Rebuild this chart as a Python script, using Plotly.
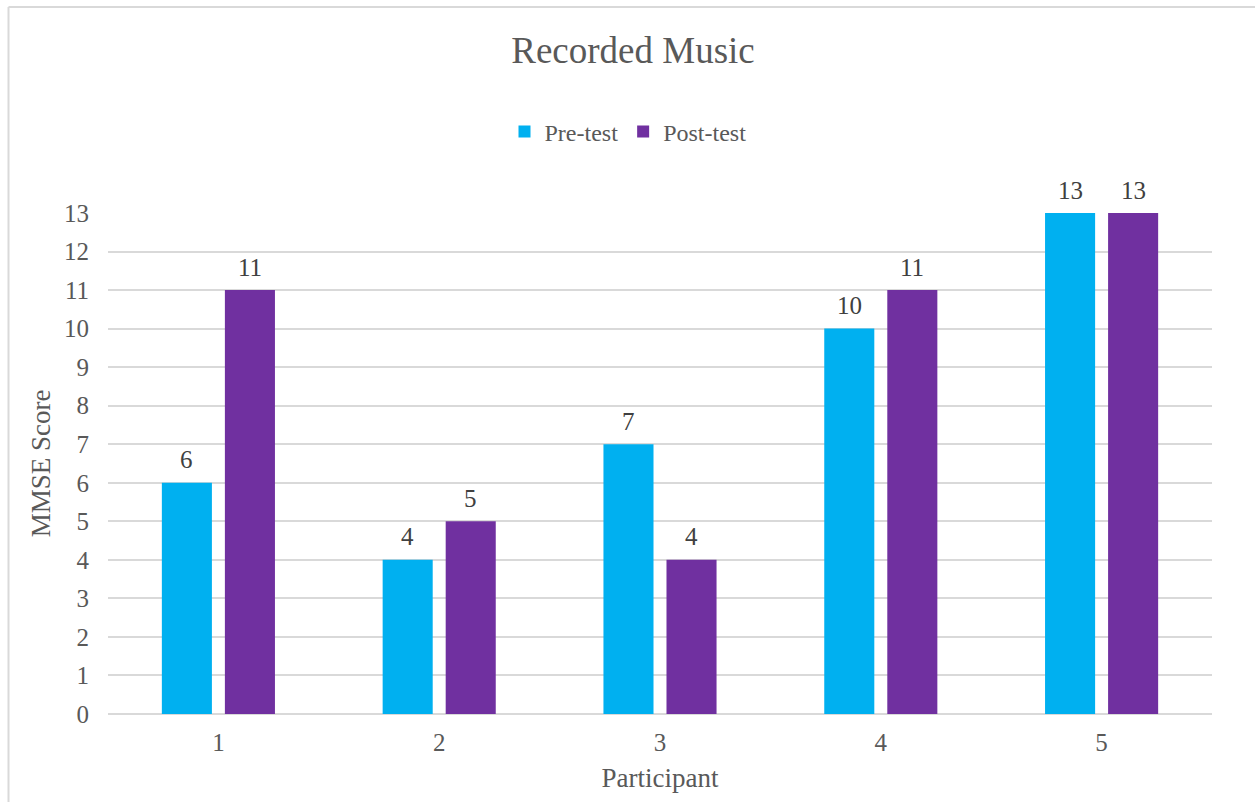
import plotly.graph_objects as go

participants = ["1", "2", "3", "4", "5"]
pre_test = [6, 4, 7, 10, 13]
post_test = [11, 5, 4, 11, 13]
y_ticks = list(range(0, 14))

W, H = 1255, 802
ML, MR, MT, MB = 108, 43, 213, 88
PW, PH = W - ML - MR, H - MT - MB

FONT = "Liberation Serif"
GRAY = "#595959"
LABEL = "#404040"
GRID = "#D9D9D9"
PRE_COLOR = "#00B0F0"
POST_COLOR = "#7030A0"

fig = go.Figure()
fig.add_trace(go.Bar(
    x=participants, y=pre_test, name="Pre-test",
    marker=dict(color=PRE_COLOR, line=dict(width=0)),
))
fig.add_trace(go.Bar(
    x=participants, y=post_test, name="Post-test",
    marker=dict(color=POST_COLOR, line=dict(width=0)),
))

# data labels placed above each bar (offset to the bar's slot in its group)
annotations = []
for series, shift in ((pre_test, -31.5), (post_test, 31.5)):
    for idx, val in enumerate(series):
        annotations.append(dict(
            x=idx, y=val, xref="x", yref="y", text=str(val),
            showarrow=False, xshift=shift, yshift=23,
            xanchor="center", yanchor="middle",
            font=dict(family=FONT, size=25, color=LABEL),
        ))


def px_x(x):
    return (x - ML) / PW


def px_y(y):
    return (H - MB - y) / PH


fig.update_layout(
    width=W, height=H,
    margin=dict(l=ML, r=MR, t=MT, b=MB, pad=0),
    paper_bgcolor="white", plot_bgcolor="white",
    font=dict(family=FONT, color=GRAY),
    barmode="group", bargap=0.429, bargroupgap=0.206,
    title=dict(text="Recorded Music", x=633 / W, xanchor="center",
               y=1 - 50 / H, yanchor="middle",
               font=dict(family=FONT, size=37, color=GRAY)),
    legend=dict(orientation="h", x=px_x(628), xanchor="center",
                y=px_y(132), yanchor="middle",
                font=dict(family=FONT, size=24, color=GRAY),
                itemwidth=30, traceorder="normal"),
    xaxis=dict(
        type="category", range=[-0.5, len(participants) - 0.5],
        showgrid=False, zeroline=False,
        showline=False, ticks="",
        tickfont=dict(family=FONT, size=25, color=GRAY),
        ticklabelstandoff=11,
        title=dict(text="Participant", standoff=13,
                   font=dict(family=FONT, size=27, color=GRAY)),
    ),
    yaxis=dict(
        range=[0, 13], tickvals=y_ticks, showgrid=True, gridcolor=GRID,
        gridwidth=1.5, zeroline=True, zerolinecolor=GRID, zerolinewidth=1.5,
        showline=False, ticks="",
        tickfont=dict(family=FONT, size=25, color=GRAY),
        ticklabelstandoff=18,
        title=dict(text="MMSE Score", standoff=5,
                   font=dict(family=FONT, size=27, color=GRAY)),
    ),
    annotations=annotations,
    shapes=[
        dict(type="line", xref="paper", yref="paper",
             x0=px_x(8.5), x1=px_x(8.5), y0=px_y(7), y1=px_y(H + 5),
             line=dict(color=GRID, width=2)),
        dict(type="line", xref="paper", yref="paper",
             x0=px_x(8.5), x1=px_x(W + 5), y0=px_y(7), y1=px_y(7),
             line=dict(color=GRID, width=2)),
    ],
)

fig.write_html("out.html")
